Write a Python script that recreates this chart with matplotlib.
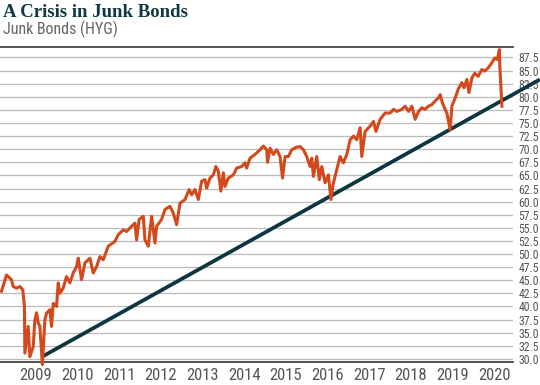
import matplotlib
matplotlib.use("Agg")
import matplotlib.pyplot as plt
from matplotlib import font_manager

# HYG price (decimal years)
years = [
    2008.18, 2008.30, 2008.42, 2008.46, 2008.54, 2008.62, 2008.69, 2008.73, 2008.74, 2008.78,
    2008.82, 2008.86, 2008.94, 2008.98, 2009.02, 2009.06, 2009.10, 2009.16, 2009.22, 2009.26,
    2009.34, 2009.38, 2009.42, 2009.50, 2009.54, 2009.58, 2009.66, 2009.74, 2009.82, 2009.90,
    2009.98, 2010.02, 2010.10, 2010.18, 2010.30, 2010.38, 2010.46, 2010.54, 2010.62, 2010.74,
    2010.90, 2010.98, 2011.10, 2011.18, 2011.30, 2011.38, 2011.42, 2011.48, 2011.58, 2011.62,
    2011.70, 2011.78, 2011.86, 2011.90, 2012.02, 2012.10, 2012.22, 2012.30, 2012.38, 2012.46,
    2012.58, 2012.68, 2012.74, 2012.82, 2012.90, 2012.98, 2013.06, 2013.10, 2013.18, 2013.26,
    2013.32, 2013.38, 2013.44, 2013.50, 2013.54, 2013.62, 2013.74, 2013.82, 2013.94, 2014.02,
    2014.06, 2014.14, 2014.26, 2014.38, 2014.46, 2014.54, 2014.56, 2014.62, 2014.70, 2014.78,
    2014.86, 2014.92, 2014.98, 2015.06, 2015.14, 2015.26, 2015.34, 2015.42, 2015.50, 2015.58,
    2015.62, 2015.66, 2015.74, 2015.80, 2015.86, 2015.94, 2016.02, 2016.08, 2016.14, 2016.22,
    2016.30, 2016.38, 2016.46, 2016.54, 2016.62, 2016.70, 2016.78, 2016.82, 2016.90, 2017.02,
    2017.10, 2017.16, 2017.26, 2017.38, 2017.50, 2017.58, 2017.66, 2017.78, 2017.86, 2017.94,
    2018.02, 2018.10, 2018.18, 2018.26, 2018.34, 2018.42, 2018.50, 2018.58, 2018.66, 2018.70,
    2018.74, 2018.77, 2018.86, 2018.94, 2018.98, 2019.06, 2019.13, 2019.22, 2019.27, 2019.34,
    2019.39, 2019.46, 2019.53, 2019.61, 2019.70, 2019.77, 2019.85, 2019.94, 2020.01, 2020.07,
    2020.12, 2020.13, 2020.18,
]
price = [
    42.9, 46.0, 45.1, 43.8, 43.5, 43.8, 43.2, 40.0, 31.1, 33.6,
    36.2, 30.4, 32.3, 37.4, 38.8, 36.9, 36.2, 28.9, 37.4, 38.7,
    39.4, 36.2, 40.6, 40.0, 44.5, 42.5, 43.5, 45.7, 44.5, 46.4,
    47.6, 49.2, 45.1, 48.3, 49.2, 46.4, 47.6, 49.5, 48.9, 51.5,
    52.4, 53.7, 54.6, 54.3, 55.3, 55.9, 52.7, 56.6, 57.2, 52.7,
    51.5, 57.2, 52.1, 55.3, 56.6, 58.5, 59.1, 57.8, 55.6, 59.7,
    60.4, 62.3, 61.3, 62.3, 60.4, 63.9, 64.2, 62.6, 64.5, 65.1,
    66.7, 65.8, 62.0, 65.5, 62.9, 64.5, 65.1, 66.4, 66.7, 67.4,
    66.4, 68.3, 69.0, 69.9, 70.6, 69.9, 67.5, 70.2, 69.0, 69.9,
    68.6, 64.5, 68.6, 68.6, 69.9, 70.4, 70.5, 69.9, 68.6, 66.7,
    68.3, 64.8, 68.6, 64.2, 66.7, 63.6, 65.1, 60.4, 63.6, 66.1,
    68.6, 67.4, 69.0, 71.8, 72.5, 71.8, 74.1, 68.6, 73.4, 74.4,
    75.3, 73.4, 75.7, 76.9, 76.9, 77.6, 77.2, 77.6, 78.2, 77.2,
    78.2, 75.7, 77.2, 77.9, 77.6, 78.2, 78.5, 79.2, 79.8, 80.4,
    79.2, 78.5, 76.9, 73.7, 78.2, 79.8, 81.4, 82.7, 81.7, 83.3,
    80.8, 83.6, 84.5, 83.9, 85.2, 84.9, 85.5, 86.5, 87.4, 87.1,
    89.0, 85.8, 78.2,
]

# support trend line end points
trend_years = [2009.15, 2021.09]
trend_values = [30.4, 83.3]

tick_years = list(range(2009, 2021))
y_ticks = [30 + 2.5 * i for i in range(24)]

# pick a narrow sans if one is installed, else fall back to Roboto
installed = {(f.name, f.stretch) for f in font_manager.fontManager.ttflist}
names = {n for n, s in installed}
narrow = dict(family=["Roboto", "DejaVu Sans"])
scale = 0.9
for cand in ["Liberation Sans Narrow", "Roboto Condensed", "Open Sans Condensed"]:
    if cand in names:
        narrow = dict(family=[cand, "DejaVu Sans"])
        scale = 1.0
        break
else:
    if any(n == "DejaVu Sans" and s in ("condensed", 300, "semi-condensed") for n, s in installed):
        narrow = dict(family=["DejaVu Sans"], stretch="condensed")
        scale = 0.93

fig = plt.figure(figsize=(5.4, 3.85), dpi=100)
ax = fig.add_axes([0.0, 0.0597, 0.95, 0.8183])

ax.plot(trend_years, trend_values, color="#0d3640", linewidth=2.7,
        solid_capstyle="butt", zorder=3, clip_on=False)
ax.plot(years, price, color="#d4491c", linewidth=2.2, zorder=4, clip_on=False)

ax.set_xlim(2008.144, 2020.446)
ax.set_ylim(29.4, 89.5)

ax.yaxis.tick_right()
ax.set_yticks(y_ticks)
ax.set_yticklabels([f"{v:.1f}" for v in y_ticks], fontsize=8.5 * scale,
                   color="#555555", **narrow)
ax.set_xticks(tick_years)
ax.set_xticklabels([str(y) for y in tick_years], fontsize=12 * scale,
                   color="#555555", **narrow)
ax.tick_params(axis="y", length=0, pad=4)
ax.tick_params(axis="x", length=0, pad=4)

ax.grid(True, axis="y", color="#bbbbbb", linewidth=0.9)
ax.set_axisbelow(True)
for side in ["left", "right"]:
    ax.spines[side].set_visible(False)
for side in ["top", "bottom"]:
    ax.spines[side].set_color("#333333")
    ax.spines[side].set_linewidth(1.2)

fig.text(0.006, 0.968, "A Crisis in Junk Bonds", family=["Liberation Serif", "DejaVu Serif"],
         fontweight="bold", fontsize=13.5, color="#0f3a45", va="center", ha="left")
fig.text(0.006, 0.924, "Junk Bonds (HYG)", fontsize=11.5 * scale, color="#666666",
         va="center", ha="left", **narrow)

fig.savefig("out.png", dpi=100)
